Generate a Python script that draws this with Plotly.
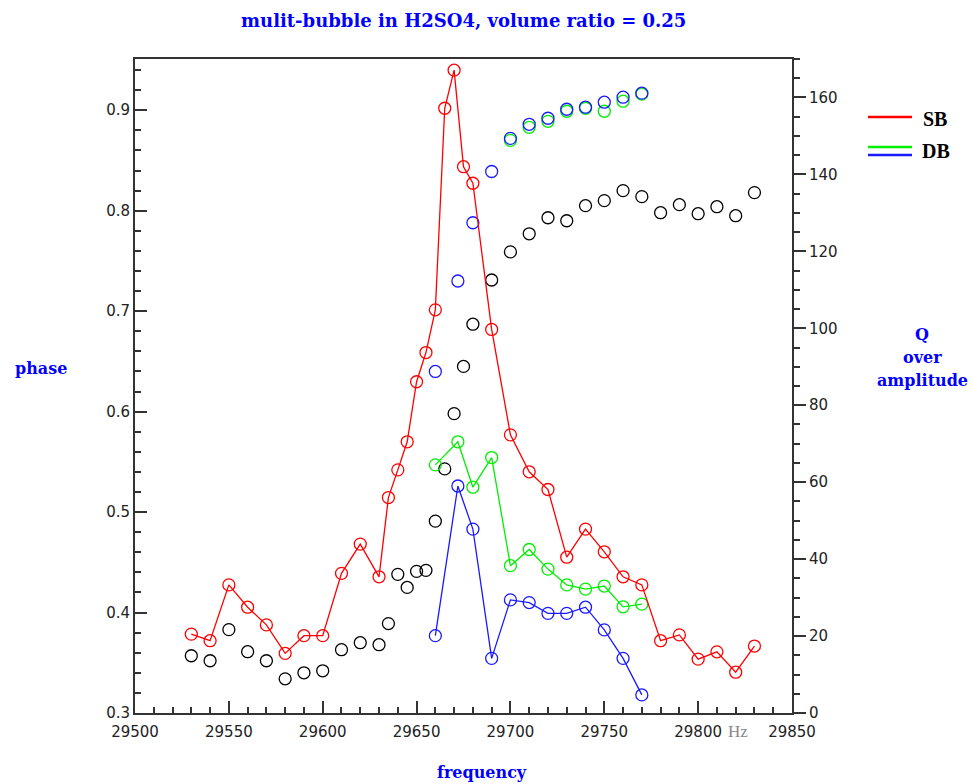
import plotly.graph_objects as go

# ---- data -------------------------------------------------------------
# single bubble: Q over amplitude (right axis)
sb_freq = [29530, 29540, 29550, 29560, 29570, 29580, 29590, 29600, 29610, 29620,
           29630, 29635, 29640, 29645, 29650, 29655, 29660, 29665, 29670, 29675,
           29680, 29690, 29700, 29710, 29720, 29730, 29740, 29750, 29760, 29770,
           29780, 29790, 29800, 29810, 29820, 29830]
sb_q = [20.5, 18.8, 33.3, 27.5, 22.9, 15.5, 20.1, 20.1, 36.3, 43.9,
        35.4, 56.0, 63.2, 70.5, 86.1, 93.7, 104.8, 157.2, 167.1, 142.0,
        137.7, 99.7, 72.3, 62.7, 58.1, 40.5, 47.8, 41.9, 35.4, 33.3,
        18.8, 20.3, 14.0, 15.9, 10.6, 17.4]

# single bubble: phase (left axis)
sb_phase = [0.357, 0.352, 0.383, 0.361, 0.352, 0.334, 0.340, 0.342, 0.363, 0.370,
            0.368, 0.389, 0.438, 0.425, 0.441, 0.442, 0.491, 0.543, 0.598, 0.645,
            0.687, 0.731, 0.759, 0.777, 0.793, 0.790, 0.805, 0.810, 0.820, 0.814,
            0.798, 0.806, 0.797, 0.804, 0.795, 0.818]

# double bubble
db_freq = [29660, 29672, 29680, 29690, 29700, 29710, 29720, 29730, 29740, 29750,
           29760, 29770]
db_green_q = [64.5, 70.5, 58.7, 66.4, 38.3, 42.5, 37.4, 33.3, 32.2, 33.0, 27.6, 28.3]
db_blue_q = [20.1, 59.0, 47.8, 14.2, 29.4, 28.7, 25.9, 25.9, 27.5, 21.6, 14.2, 4.7]

db_blue_phase = [0.640, 0.730, 0.788, 0.839, 0.872, 0.886, 0.892, 0.901, 0.903,
                 0.908, 0.913, 0.917]
db_green_phase_freq = [29700, 29710, 29720, 29730, 29740, 29750, 29760, 29770]
db_green_phase = [0.870, 0.883, 0.889, 0.899, 0.902, 0.899, 0.909, 0.916]

RED = "#ff0000"
GREEN = "#00ee00"
BLUE = "#1a1aff"
AXIS = "#333333"

# ---- figure geometry (pixels) -----------------------------------------
W, H = 973, 784
L, R, T, B = 135, 181, 59, 71
PW, PH = W - L - R, H - T - B


def px(x):
    return (x - L) / PW


def py(y):
    return (H - B - y) / PH


fig = go.Figure()

marker_open = dict(symbol="circle-open", size=12, line=dict(width=1.3))

# phase markers (left axis)
fig.add_trace(go.Scatter(x=sb_freq, y=sb_phase, mode="markers",
                         marker=dict(color="#000000", **marker_open),
                         yaxis="y", showlegend=False))
fig.add_trace(go.Scatter(x=db_green_phase_freq, y=db_green_phase, mode="markers",
                         marker=dict(color=GREEN, **marker_open),
                         yaxis="y", showlegend=False))
fig.add_trace(go.Scatter(x=db_freq, y=db_blue_phase, mode="markers",
                         marker=dict(color=BLUE, **marker_open),
                         yaxis="y", showlegend=False))

# Q over amplitude lines (right axis)
fig.add_trace(go.Scatter(x=db_freq, y=db_green_q, mode="lines+markers",
                         line=dict(color=GREEN, width=1.3),
                         marker=dict(color=GREEN, **marker_open),
                         yaxis="y2", showlegend=False))
fig.add_trace(go.Scatter(x=db_freq, y=db_blue_q, mode="lines+markers",
                         line=dict(color=BLUE, width=1.3),
                         marker=dict(color=BLUE, **marker_open),
                         yaxis="y2", showlegend=False))
fig.add_trace(go.Scatter(x=sb_freq, y=sb_q, mode="lines+markers",
                         line=dict(color=RED, width=1.3),
                         marker=dict(color=RED, **marker_open),
                         yaxis="y2", showlegend=False))

tick_font = dict(family="DejaVu Sans", size=15, color="#222222")
label_font = dict(family="DejaVu Serif", size=16, color="#0000ff")

fig.update_layout(
    width=W, height=H,
    margin=dict(l=L, r=R, t=T, b=B, pad=0),
    paper_bgcolor="white", plot_bgcolor="white",
    xaxis=dict(range=[29500, 29850], tick0=29500, dtick=50, tickformat="d",
               ticks="inside", ticklen=12, tickwidth=1.5, tickcolor=AXIS,
               minor=dict(dtick=10, ticks="inside", ticklen=6, tickwidth=1.5,
                          tickcolor=AXIS),
               ticklabelstandoff=4,
               showline=True, linecolor=AXIS, linewidth=2, mirror=True,
               showgrid=False, zeroline=False, tickfont=tick_font),
    yaxis=dict(range=[0.3, 0.951], tick0=0.3, dtick=0.1, tickformat=".1f",
               ticks="inside", ticklen=12, tickwidth=1.5, tickcolor=AXIS,
               minor=dict(dtick=0.02, ticks="inside", ticklen=6, tickwidth=1.5,
                          tickcolor=AXIS),
               showline=True, linecolor=AXIS, linewidth=2,
               showgrid=False, zeroline=False, tickfont=tick_font),
    yaxis2=dict(range=[0, 170], tick0=0, dtick=20, overlaying="y", side="right",
                ticks="outside", ticklen=12, tickwidth=1.5, tickcolor=AXIS,
                minor=dict(dtick=5, ticks="outside", ticklen=6, tickwidth=1.5,
                           tickcolor=AXIS),
                showline=True, linecolor=AXIS, linewidth=2,
                showgrid=False, zeroline=False, tickfont=tick_font),
)

annotations = [
    dict(text="<b>mulit-bubble in H2SO4, volume ratio = 0.25</b>",
         x=px(463), y=py(21), font=dict(family="DejaVu Serif", size=18, color="#0000ff")),
    dict(text="<b>phase</b>", x=px(41), y=py(368), font=label_font),
    dict(text="<b>frequency</b>", x=px(482), y=py(772), font=label_font),
    dict(text="<b>Q</b>", x=px(922), y=py(334), font=label_font),
    dict(text="<b>over</b>", x=px(922), y=py(357), font=label_font),
    dict(text="<b>amplitude</b>", x=px(922), y=py(380), font=label_font),
    dict(text="Hz", x=px(738), y=py(731),
         font=dict(family="Liberation Serif", size=17, color="#888888")),
    dict(text="<b>SB</b>", x=px(935), y=py(119),
         font=dict(family="Liberation Serif", size=20, color="#000000")),
    dict(text="<b>DB</b>", x=px(936), y=py(151),
         font=dict(family="Liberation Serif", size=20, color="#000000")),
]
for a in annotations:
    a.update(xref="paper", yref="paper", showarrow=False,
             xanchor="center", yanchor="middle")
fig.update_layout(annotations=annotations)

# legend swatches
for yy, col in [(117, RED), (147, GREEN), (155, BLUE)]:
    fig.add_shape(type="line", xref="paper", yref="paper",
                  x0=px(868), x1=px(912), y0=py(yy), y1=py(yy),
                  line=dict(color=col, width=2.5))

fig.write_html("out.html")
